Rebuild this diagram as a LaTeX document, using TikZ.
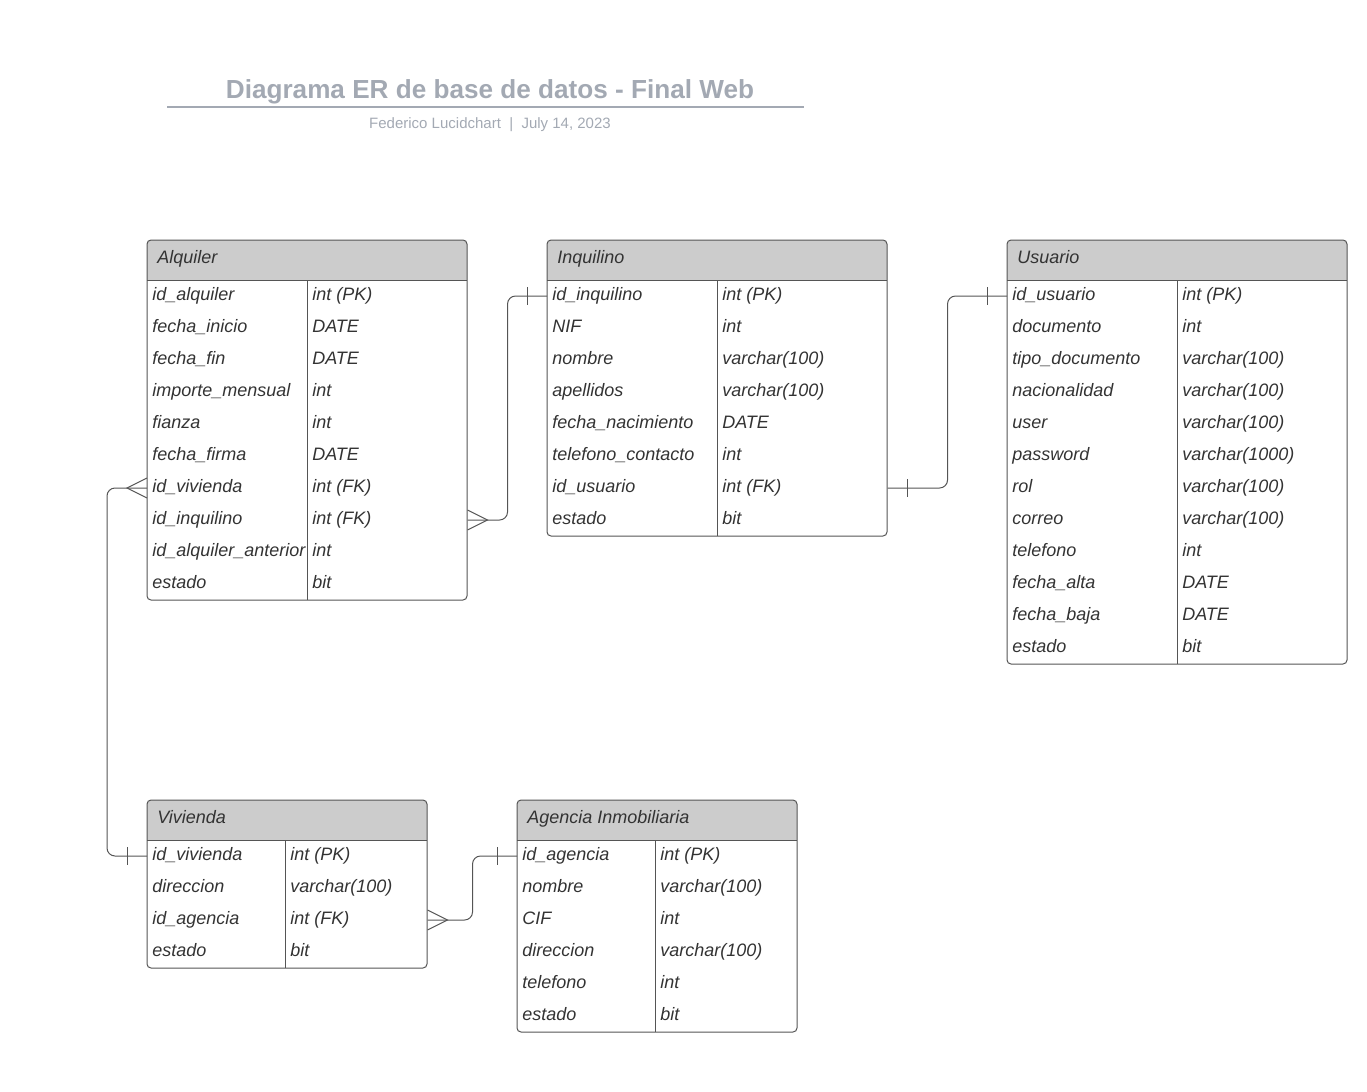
\documentclass[tikz,border=0pt]{standalone}
\usepackage{fontspec}
\setmainfont{Liberation Sans}

\definecolor{titlegray}{HTML}{A3A9B3}
\definecolor{hdrgray}{HTML}{CCCCCC}
\definecolor{inkgray}{HTML}{333333}
\definecolor{linegray}{HTML}{555555}

\begin{document}
\begin{tikzpicture}[x=0.75pt,y=-0.75pt,
  every node/.style={text=inkgray},
  cell/.style={anchor=west,inner xsep=3.75pt,inner ysep=0pt,minimum height=24pt,
    text height=9pt,text depth=3pt,font=\fontsize{13.5}{16}\selectfont\itshape},
  fld/.style={cell,text width=#1,align=left},
  hdr/.style={anchor=west,inner sep=0pt,text height=9pt,text depth=3.75pt,
    font=\fontsize{13.5}{16}\selectfont\itshape},
  box/.style={draw=linegray,line width=0.75pt,rounded corners=3},
  rel/.style={draw=linegray,line width=0.75pt}]
  \useasboundingbox (0,0) rectangle (1367,1092);

  % title
  \node[font=\fontsize{19.6}{22}\selectfont\bfseries,text=titlegray] (title) at (490,92)
    {Diagrama ER de base de datos - Final Web};
  \draw[titlegray,line width=1.5pt] (167,107) -- (804,107);
  \node[font=\fontsize{11.25}{13}\selectfont,text=titlegray] (subtitle) at (490,125)
    {Federico Lucidchart\ \ |\ \ July 14, 2023};

  % Alquiler
  \fill[hdrgray] (147,280) [rounded corners=3] -- (147,240) -- (467,240) [sharp corners] -- (467,280) -- cycle;
  \node[hdr] (alquiler) at (157,260) {Alquiler};
  \foreach \n/\t [count=\i] in {id\_alquiler/int (PK), fecha\_inicio/DATE, fecha\_fin/DATE,
      importe\_mensual/int, fianza/int, fecha\_firma/DATE, id\_vivienda/int (FK),
      id\_inquilino/int (FK), id\_alquiler\_anterior/int, estado/bit} {
    \node[fld=232.5pt] (alquiler-\i) at (147,264+32*\i) {\n};
    \node[cell] (alquiler-t\i) at (307,264+32*\i) {\t};
  }
  \draw[box] (147,240) rectangle (467,600);
  \draw[rel] (147,280) -- (467,280) (307,280) -- (307,600);

  % Inquilino
  \fill[hdrgray] (547,280) [rounded corners=3] -- (547,240) -- (887,240) [sharp corners] -- (887,280) -- cycle;
  \node[hdr] (inquilino) at (557,260) {Inquilino};
  \foreach \n/\t [count=\i] in {id\_inquilino/int (PK), NIF/int, nombre/varchar(100),
      apellidos/varchar(100), fecha\_nacimiento/DATE, telefono\_contacto/int,
      id\_usuario/int (FK), estado/bit} {
    \node[fld=247.5pt] (inquilino-\i) at (547,264+32*\i) {\n};
    \node[cell] (inquilino-t\i) at (717,264+32*\i) {\t};
  }
  \draw[box] (547,240) rectangle (887,536);
  \draw[rel] (547,280) -- (887,280) (717,280) -- (717,536);

  % Usuario
  \fill[hdrgray] (1007,280) [rounded corners=3] -- (1007,240) -- (1347,240) [sharp corners] -- (1347,280) -- cycle;
  \node[hdr] (usuario) at (1017,260) {Usuario};
  \foreach \n/\t [count=\i] in {id\_usuario/int (PK), documento/int,
      tipo\_documento/varchar(100), nacionalidad/varchar(100), user/varchar(100),
      password/varchar(1000), rol/varchar(100), correo/varchar(100), telefono/int,
      fecha\_alta/DATE, fecha\_baja/DATE, estado/bit} {
    \node[fld=247.5pt] (usuario-\i) at (1007,264+32*\i) {\n};
    \node[cell] (usuario-t\i) at (1177,264+32*\i) {\t};
  }
  \draw[box] (1007,240) rectangle (1347,664);
  \draw[rel] (1007,280) -- (1347,280) (1177,280) -- (1177,664);

  % Vivienda
  \fill[hdrgray] (147,840) [rounded corners=3] -- (147,800) -- (427,800) [sharp corners] -- (427,840) -- cycle;
  \node[hdr] (vivienda) at (157,820) {Vivienda};
  \foreach \n/\t [count=\i] in {id\_vivienda/int (PK), direccion/varchar(100),
      id\_agencia/int (FK), estado/bit} {
    \node[fld=202.5pt] (vivienda-\i) at (147,824+32*\i) {\n};
    \node[cell] (vivienda-t\i) at (285,824+32*\i) {\t};
  }
  \draw[box] (147,800) rectangle (427,968);
  \draw[rel] (147,840) -- (427,840) (285,840) -- (285,968);

  % Agencia Inmobiliaria
  \fill[hdrgray] (517,840) [rounded corners=3] -- (517,800) -- (797,800) [sharp corners] -- (797,840) -- cycle;
  \node[hdr] (agencia) at (527,820) {Agencia Inmobiliaria};
  \foreach \n/\t [count=\i] in {id\_agencia/int (PK), nombre/varchar(100), CIF/int,
      direccion/varchar(100), telefono/int, estado/bit} {
    \node[fld=202.5pt] (agencia-\i) at (517,824+32*\i) {\n};
    \node[cell] (agencia-t\i) at (655,824+32*\i) {\t};
  }
  \draw[box] (517,800) rectangle (797,1032);
  \draw[rel] (517,840) -- (797,840) (655,840) -- (655,1032);

  % Alquiler >-- Inquilino
  \draw[rel,rounded corners=6] (alquiler-8.east) -- ++(40,0) |- (inquilino-1.west);
  \draw[rel] (alquiler-8.east) ++(0,-10) -- ++(20,10) -- ++(-20,10);
  \draw[rel] (inquilino-1.west) ++(-20,-9) -- ++(0,18);

  % Inquilino -- Usuario
  \draw[rel,rounded corners=6] (inquilino-7.east) -- ++(60,0) |- (usuario-1.west);
  \draw[rel] (inquilino-7.east) ++(20,-9) -- ++(0,18);
  \draw[rel] (usuario-1.west) ++(-20,-9) -- ++(0,18);

  % Alquiler >-- Vivienda
  \draw[rel,rounded corners=6] (alquiler-7.west) -- ++(-40,0) |- (vivienda-1.west);
  \draw[rel] (alquiler-7.west) ++(0,-10) -- ++(-20,10) -- ++(20,10);
  \draw[rel] (vivienda-1.west) ++(-20,-9) -- ++(0,18);

  % Vivienda >-- Agencia
  \draw[rel,rounded corners=6] (vivienda-3.east) -- ++(45,0) |- (agencia-1.west);
  \draw[rel] (vivienda-3.east) ++(0,-10) -- ++(20,10) -- ++(-20,10);
  \draw[rel] (agencia-1.west) ++(-20,-9) -- ++(0,18);
\end{tikzpicture}
\end{document}
